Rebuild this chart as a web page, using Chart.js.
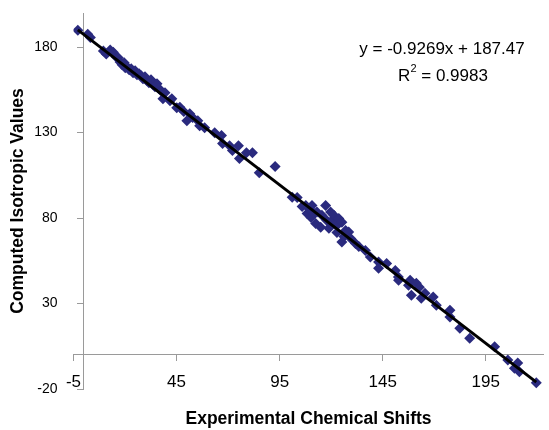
<!DOCTYPE html>
<html>
<head>
<meta charset="utf-8">
<script src="https://cdn.jsdelivr.net/npm/chart.js@4.4.0/dist/chart.umd.min.js"></script>
<style>
  html, body { margin: 0; padding: 0; background: #fff; }
</style>
</head>
<body>
<canvas id="shiftChart" width="549" height="430"></canvas>
<script>
// experimental shift (x) vs computed isotropic value (y)
var shiftX = [-2.9, 1.9, 3.2, 9.5, 10.9, 12.8, 14.3, 15.7, 16.7, 17.6,
  18.6, 19.6, 20.1, 21.0, 22.0, 23.0, 23.9, 24.9, 25.8, 26.8,
  27.8, 28.7, 29.7, 30.7, 31.6, 32.6, 33.6, 34.5, 35.5, 36.5,
  37.4, 38.4, 39.4, 41.8, 42.7, 45.1, 46.6, 48.5, 50.0, 51.4,
  52.8, 55.3, 56.2, 58.6, 63.5, 66.8, 67.3, 70.7, 72.1, 75.0,
  75.5, 78.9, 81.8, 85.1, 92.8, 101.1, 103.5, 105.9, 107.7, 108.3,
  110.1, 110.2, 110.7, 111.7, 112.5, 113.1, 114.9, 115.5, 117.3, 117.9,
  118.9, 119.7, 120.3, 121.3, 122.8, 122.8, 123.7, 125.2, 125.2, 126.2,
  127.0, 128.5, 129.5, 131.8, 133.4, 136.6, 139.0, 143.0, 143.0, 146.9,
  151.1, 152.6, 152.7, 157.5, 158.3, 158.9, 161.3, 162.8, 163.7, 165.5,
  169.5, 171.0, 177.6, 177.6, 182.4, 187.2, 199.3, 205.7, 208.9, 210.5,
  211.3, 219.5]
var isoY = [189.9, 187.6, 185.6, 177.8, 176.0, 178.3, 177.1, 174.3, 173.8, 171.3,
  169.7, 170.9, 167.9, 168.5, 166.8, 167.4, 165.0, 166.2, 163.8, 164.4,
  163.3, 161.5, 162.7, 160.3, 159.2, 160.9, 158.0, 156.9, 158.6, 155.7,
  154.5, 149.9, 153.4, 148.7, 149.9, 144.6, 144.8, 142.3, 137.0, 141.1,
  138.8, 137.0, 134.1, 132.9, 130.0, 128.3, 123.6, 122.4, 119.5, 122.4,
  114.8, 118.3, 118.3, 106.6, 110.2, 92.2, 92.1, 86.8, 87.4, 82.7,
  84.5, 80.4, 87.4, 82.7, 76.9, 83.5, 74.7, 81.6, 87.4, 78.6,
  74.0, 83.5, 78.6, 81.6, 75.7, 71.6, 79.8, 77.6, 66.0, 69.3,
  72.8, 71.8, 68.1, 65.2, 63.4, 61.1, 57.2, 54.3, 50.6, 53.5,
  49.4, 45.5, 43.6, 40.7, 43.6, 34.9, 41.9, 39.5, 33.1, 36.0,
  33.9, 29.0, 26.1, 22.2, 15.6, 9.7, 4.7, -3.1, -7.8, -4.8,
  -9.9, -16.3]

// linear trendline ends (y = -0.9269x + 187.47)
var trendX = [-2.9, 219.5]
var trendY = [190.16, -15.98]

var xTicks = [-5, 45, 95, 145, 195]
var yTicks = [-20, 30, 80, 130, 180]

var eqText = 'y = -0.9269x + 187.47'
var r2Text = '0.9983'

var axisGrey = '#9a9a9a'
Chart.defaults.font.family = '"Liberation Sans", Arial, sans-serif'
Chart.defaults.color = '#000'

function fixedTicks(list) {
  return function (scale) {
    scale.ticks = list.map(function (v) { return { value: v } })
  }
}

function toPoints(xs, ys) {
  return xs.map(function (x, i) { return { x: x, y: ys[i] } })
}

// trendline equation text, Excel style
var equationLabel = {
  id: 'equationLabel',
  afterDraw: function (chart) {
    var ctx = chart.ctx
    ctx.save()
    ctx.fillStyle = '#000'
    ctx.textBaseline = 'middle'
    ctx.font = '17px "Liberation Sans", Arial, sans-serif'
    ctx.textAlign = 'center'
    ctx.fillText(eqText, 442, 49)

    var rest = ' = ' + r2Text
    var wR = ctx.measureText('R').width
    var wRest = ctx.measureText(rest).width
    ctx.font = '11px "Liberation Sans", Arial, sans-serif'
    var w2 = ctx.measureText('2').width
    var start = 443 - (wR + w2 + wRest) / 2
    ctx.textAlign = 'left'
    ctx.fillText('2', start + wR, 69)
    ctx.font = '17px "Liberation Sans", Arial, sans-serif'
    ctx.fillText('R', start, 76)
    ctx.fillText(rest, start + wR + w2, 76)
    ctx.restore()
  }
}

new Chart(document.getElementById('shiftChart'), {
  type: 'scatter',
  data: {
    datasets: [
      {
        label: 'Linear trend',
        data: toPoints(trendX, trendY),
        showLine: true,
        borderColor: '#000',
        borderWidth: 3,
        pointRadius: 0
      },
      {
        label: 'Shifts',
        data: toPoints(shiftX, isoY),
        pointStyle: 'rectRot',
        pointRadius: 5.5,
        backgroundColor: '#2a2a7e',
        borderWidth: 0
      }
    ]
  },
  options: {
    responsive: false,
    animation: false,
    layout: { padding: { top: 13, right: 2, bottom: 0, left: 0 } },
    plugins: {
      legend: { display: false },
      tooltip: { enabled: false },
      title: {
        display: true,
        text: 'Experimental Chemical Shifts',
        position: 'bottom',
        fullSize: false,
        color: '#000',
        font: { size: 17.5, weight: 'bold' },
        padding: { top: 19.7, bottom: 0.3 }
      },
      subtitle: {
        display: true,
        text: 'Computed Isotropic Values',
        position: 'left',
        fullSize: false,
        color: '#000',
        font: { size: 17.5, weight: 'bold' },
        padding: { top: 7.5, bottom: 3.6 }
      }
    },
    scales: {
      x: {
        type: 'linear',
        min: -5,
        max: 223,
        position: { y: 0 },
        afterBuildTicks: fixedTicks(xTicks),
        grid: { drawOnChartArea: false, tickLength: 6, color: axisGrey },
        border: { color: axisGrey },
        ticks: { padding: 11, font: { size: 17 }, maxRotation: 0, autoSkip: false }
      },
      y: {
        type: 'linear',
        min: -20,
        max: 200,
        position: 'left',
        afterBuildTicks: fixedTicks(yTicks),
        afterFit: function (scale) { scale.width = 41.4 },
        grid: { display: false, tickLength: 16 },
        border: { display: false },
        ticks: { padding: 0, font: { size: 14 }, autoSkip: false }
      },
      yLine: {
        type: 'linear',
        axis: 'y',
        min: -20,
        max: 200,
        position: { x: 0 },
        afterBuildTicks: fixedTicks(yTicks),
        grid: { drawOnChartArea: false, tickLength: 6, color: axisGrey },
        border: { color: axisGrey },
        ticks: { display: false }
      }
    }
  },
  plugins: [equationLabel]
})
</script>
</body>
</html>
